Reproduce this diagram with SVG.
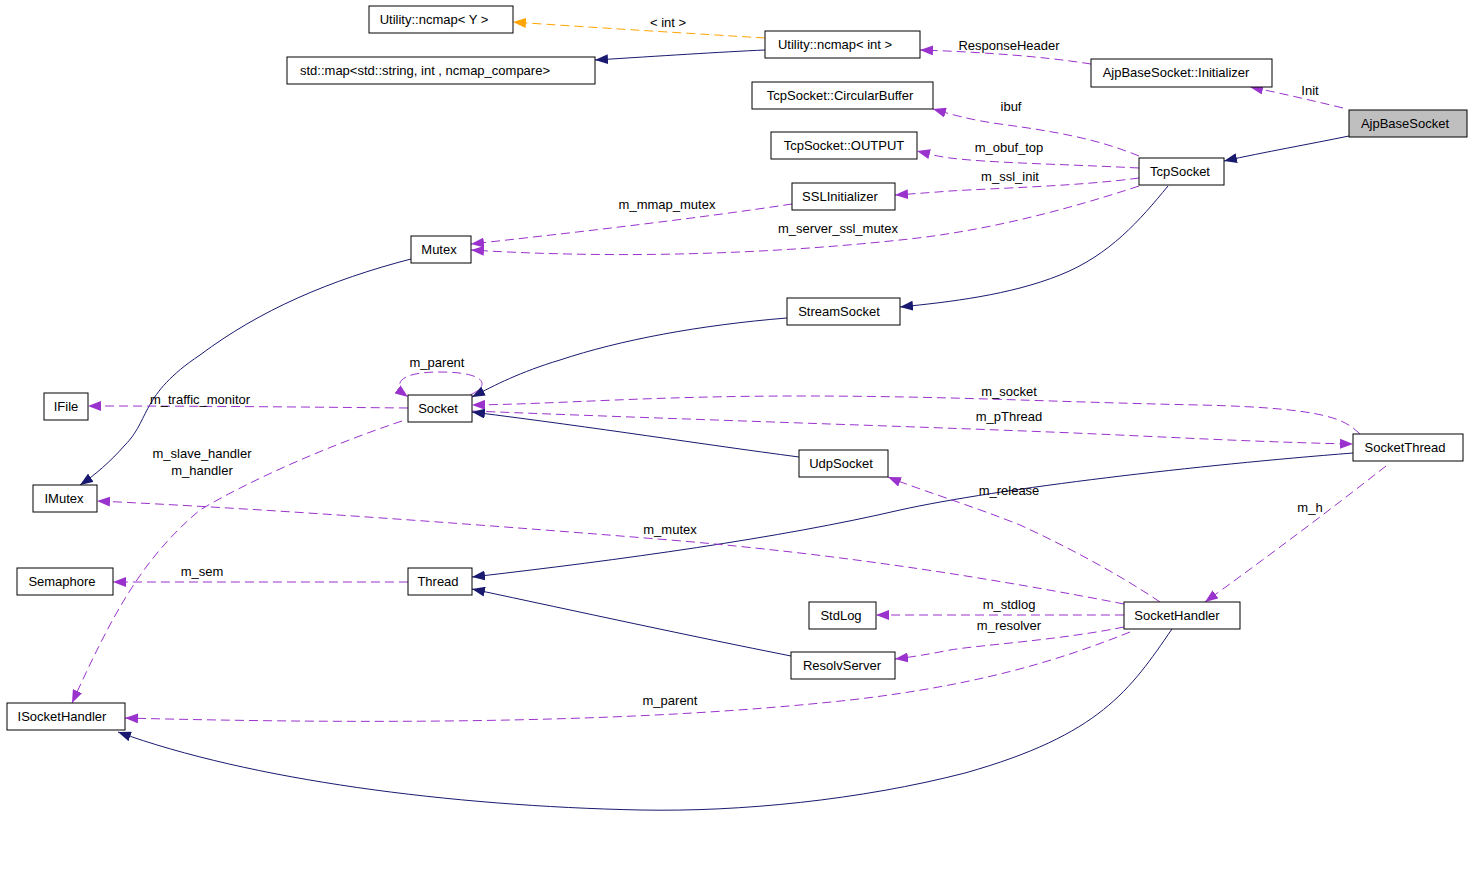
<svg xmlns="http://www.w3.org/2000/svg" width="1472" height="887" viewBox="0 0 1472 887">
<style>
.n rect{fill:#fff;stroke:#000;stroke-width:1}
.n text,.l{font-family:"Liberation Sans",Arial,sans-serif;font-size:13px;fill:#000;text-anchor:middle}
.inh{fill:none;stroke:#191970;stroke-width:1;marker-end:url(#aN)}
.use{fill:none;stroke:#9a32cd;stroke-width:1;stroke-dasharray:9,5;marker-end:url(#aP)}
.tpl{fill:none;stroke:#ffa500;stroke-width:1;stroke-dasharray:9,5;marker-end:url(#aO)}
</style>
<defs>
<marker id="aN" markerUnits="userSpaceOnUse" markerWidth="13" markerHeight="10" refX="13" refY="5" orient="auto"><path d="M0,0 L13,5 L0,10 z" fill="#191970"/></marker>
<marker id="aP" markerUnits="userSpaceOnUse" markerWidth="13" markerHeight="10" refX="13" refY="5" orient="auto"><path d="M0,0 L13,5 L0,10 z" fill="#9a32cd"/></marker>
<marker id="aO" markerUnits="userSpaceOnUse" markerWidth="13" markerHeight="10" refX="13" refY="5" orient="auto"><path d="M0,0 L13,5 L0,10 z" fill="#ffa500"/></marker>
</defs>
<rect width="1472" height="887" fill="#fff"/>
<g id="edges">
<path class="tpl" d="M765,38 C700,34 600,28 513,22"/>
<text class="l" x="668" y="27">&lt; int &gt;</text>
<path class="inh" d="M765,50 C720,52 660,56 595,60"/>
<path class="use" d="M1091,64 C1040,56 980,52 920,50"/>
<text class="l" x="1009" y="50">ResponseHeader</text>
<path class="use" d="M1343,108 C1310,100 1280,93 1250,87"/>
<text class="l" x="1310" y="95">Init</text>
<path class="inh" d="M1349,136 C1310,144 1265,152 1224,161"/>
<path class="use" d="M1139,156 C1100,140 1060,132 1000,124 C970,120 950,114 933,109"/>
<text class="l" x="1011" y="111">ibuf</text>
<path class="use" d="M1139,168 C1060,164 990,163 950,158 C935,156 925,153 917,151"/>
<text class="l" x="1009" y="152">m_obuf_top</text>
<path class="use" d="M1139,178 C1080,186 1000,188 950,191 C925,193 910,194 895,195"/>
<text class="l" x="1010" y="181">m_ssl_init</text>
<path class="use" d="M1139,186 C1060,212 980,232 900,240 C750,256 600,258 471,250"/>
<text class="l" x="838" y="233">m_server_ssl_mutex</text>
<path class="use" d="M792,204 C700,218 580,232 471,244"/>
<text class="l" x="667" y="209">m_mmap_mutex</text>
<path class="inh" d="M1168,186 C1140,220 1110,255 1060,275 C1010,295 950,302 900,307"/>
<path class="inh" d="M787,318 C700,325 620,340 560,360 C520,372 495,385 472,397"/>
<path class="inh" d="M411,259 C330,280 260,310 200,355 C140,395 150,420 125,445 C110,462 95,475 80,485"/>
<path class="use" d="M470,395 C492,385 485,372 440,372 C395,372 393,386 408,397"/>
<text class="l" x="437" y="367">m_parent</text>
<path class="use" d="M408,408 C300,407 200,406 88,406"/>
<text class="l" x="200" y="404">m_traffic_monitor</text>
<path class="use" d="M1360,434 C1345,420 1330,408 1200,405 C1050,402 950,396 800,396 C650,396 560,404 472,405"/>
<text class="l" x="1009" y="396">m_socket</text>
<path class="use" d="M472,411 C700,420 900,426 1050,432 C1150,436 1250,442 1353,444"/>
<text class="l" x="1009" y="421">m_pThread</text>
<path class="inh" d="M799,457 C700,444 600,428 472,412"/>
<path class="inh" d="M1353,453 C1200,465 1000,488 900,510 C780,538 620,560 472,577"/>
<path class="use" d="M402,421 C330,445 250,480 200,510 C140,560 110,620 72,703"/>
<text class="l" x="202" y="458">m_slave_handler</text>
<text class="l" x="202" y="475">m_handler</text>
<path class="use" d="M1124,604 C1000,580 850,555 670,540 C450,522 250,508 97,501"/>
<text class="l" x="670" y="534">m_mutex</text>
<path class="use" d="M1160,602 C1120,575 1070,548 1020,525 C970,505 920,490 888,477"/>
<text class="l" x="1009" y="495">m_release</text>
<path class="use" d="M1386,466 C1330,510 1270,555 1205,602"/>
<text class="l" x="1310" y="512">m_h</text>
<path class="use" d="M408,582 C300,582 200,582 113,582"/>
<text class="l" x="202" y="576">m_sem</text>
<path class="inh" d="M791,656 C690,636 580,612 472,589"/>
<path class="use" d="M1124,615 C1040,615 960,615 876,615"/>
<text class="l" x="1009" y="609">m_stdlog</text>
<path class="use" d="M1124,627 C1060,640 980,645 950,650 C930,654 912,657 895,659"/>
<text class="l" x="1009" y="630">m_resolver</text>
<path class="use" d="M1130,632 C1060,660 980,685 850,700 C650,722 400,725 125,718"/>
<text class="l" x="670" y="705">m_parent</text>
<path class="inh" d="M1172,629 C1130,690 1100,735 965,773 C860,800 740,812 640,810 C450,806 250,780 118,732"/>
</g>
<g id="n-ncmapY" class="n"><rect x="369" y="6" width="144" height="27"/><text x="434" y="24">Utility::ncmap&lt; Y &gt;</text></g>
<g id="n-ncmapint" class="n"><rect x="765" y="31" width="155" height="27"/><text x="835" y="49">Utility::ncmap&lt; int &gt;</text></g>
<g id="n-stdmap" class="n"><rect x="287" y="57" width="308" height="27"/><text x="425" y="75">std::map&lt;std::string, int , ncmap_compare&gt;</text></g>
<g id="n-initializer" class="n"><rect x="1091" y="59" width="181" height="28"/><text x="1176" y="77">AjpBaseSocket::Initializer</text></g>
<g id="n-ajp" class="n"><rect x="1349" y="110" width="118" height="27" style="fill:#bfbfbf"/><text x="1405" y="128">AjpBaseSocket</text></g>
<g id="n-circ" class="n"><rect x="752" y="82" width="181" height="27"/><text x="840" y="100">TcpSocket::CircularBuffer</text></g>
<g id="n-output" class="n"><rect x="771" y="132" width="146" height="27"/><text x="844" y="150">TcpSocket::OUTPUT</text></g>
<g id="n-tcp" class="n"><rect x="1139" y="158" width="85" height="27"/><text x="1180" y="176">TcpSocket</text></g>
<g id="n-ssl" class="n"><rect x="792" y="183" width="103" height="27"/><text x="840" y="201">SSLInitializer</text></g>
<g id="n-mutex" class="n"><rect x="411" y="236" width="60" height="27"/><text x="439" y="254">Mutex</text></g>
<g id="n-stream" class="n"><rect x="787" y="298" width="113" height="27"/><text x="839" y="316">StreamSocket</text></g>
<g id="n-socket" class="n"><rect x="408" y="395" width="64" height="27"/><text x="438" y="413">Socket</text></g>
<g id="n-ifile" class="n"><rect x="44" y="393" width="44" height="27"/><text x="66" y="411">IFile</text></g>
<g id="n-sthread" class="n"><rect x="1353" y="434" width="110" height="27"/><text x="1405" y="452">SocketThread</text></g>
<g id="n-udp" class="n"><rect x="799" y="450" width="89" height="27"/><text x="841" y="468">UdpSocket</text></g>
<g id="n-imutex" class="n"><rect x="33" y="485" width="64" height="27"/><text x="64" y="503">IMutex</text></g>
<g id="n-sem" class="n"><rect x="17" y="568" width="96" height="27"/><text x="62" y="586">Semaphore</text></g>
<g id="n-thread" class="n"><rect x="408" y="568" width="64" height="27"/><text x="438" y="586">Thread</text></g>
<g id="n-shandler" class="n"><rect x="1124" y="602" width="116" height="27"/><text x="1177" y="620">SocketHandler</text></g>
<g id="n-stdlog" class="n"><rect x="809" y="602" width="67" height="27"/><text x="841" y="620">StdLog</text></g>
<g id="n-resolv" class="n"><rect x="791" y="652" width="104" height="27"/><text x="842" y="670">ResolvServer</text></g>
<g id="n-ish" class="n"><rect x="7" y="703" width="118" height="27"/><text x="62" y="721">ISocketHandler</text></g>
</svg>
